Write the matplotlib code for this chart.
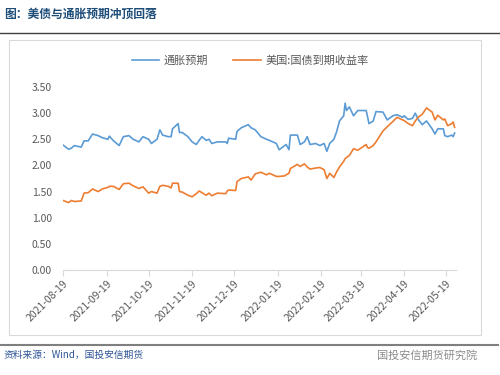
import matplotlib
matplotlib.use("Agg")
from matplotlib import pyplot as plt
from matplotlib.patches import Rectangle
import matplotlib.dates as mdates
import pandas as pd

plt.rcParams['font.family'] = ['Noto Sans CJK SC', 'DejaVu Sans']

dates = [
    "2021-08-19", "2021-08-23", "2021-08-25", "2021-08-27", "2021-09-01",
    "2021-09-03", "2021-09-06", "2021-09-09", "2021-09-13", "2021-09-16",
    "2021-09-20", "2021-09-21", "2021-09-24", "2021-09-28", "2021-10-01",
    "2021-10-05", "2021-10-08", "2021-10-12", "2021-10-15", "2021-10-19",
    "2021-10-21", "2021-10-25", "2021-10-27", "2021-10-29", "2021-11-02",
    "2021-11-04", "2021-11-05", "2021-11-09", "2021-11-10", "2021-11-12",
    "2021-11-16", "2021-11-19", "2021-11-22", "2021-11-24", "2021-11-26",
    "2021-11-29", "2021-12-01", "2021-12-03", "2021-12-07", "2021-12-13",
    "2021-12-14", "2021-12-15", "2021-12-20", "2021-12-21", "2021-12-24",
    "2021-12-29", "2021-12-31", "2022-01-03", "2022-01-07", "2022-01-11",
    "2022-01-13", "2022-01-18", "2022-01-20", "2022-01-24", "2022-01-25",
    "2022-01-27", "2022-01-28", "2022-02-02", "2022-02-04", "2022-02-07",
    "2022-02-09", "2022-02-11", "2022-02-15", "2022-02-18", "2022-02-21",
    "2022-02-23", "2022-02-25", "2022-02-28", "2022-03-02", "2022-03-04",
    "2022-03-07", "2022-03-08", "2022-03-09", "2022-03-11", "2022-03-14",
    "2022-03-17", "2022-03-23", "2022-03-24", "2022-03-25", "2022-03-28",
    "2022-03-30", "2022-04-04", "2022-04-07", "2022-04-11", "2022-04-14",
    "2022-04-18", "2022-04-19", "2022-04-22", "2022-04-25", "2022-04-27",
    "2022-04-29", "2022-05-02", "2022-05-05", "2022-05-09", "2022-05-11",
    "2022-05-13", "2022-05-17", "2022-05-18", "2022-05-20", "2022-05-23",
    "2022-05-24", "2022-05-25",
]

# 通胀预期
breakeven = [
    2.39, 2.31, 2.33, 2.38, 2.35, 2.47, 2.47, 2.60, 2.57, 2.53,
    2.50, 2.56, 2.47, 2.38, 2.55, 2.57, 2.50, 2.45, 2.55, 2.50,
    2.42, 2.50, 2.68, 2.58, 2.55, 2.55, 2.70, 2.80, 2.63, 2.63,
    2.55, 2.45, 2.40, 2.48, 2.55, 2.48, 2.50, 2.42, 2.45, 2.45,
    2.42, 2.52, 2.50, 2.65, 2.72, 2.78, 2.72, 2.68, 2.55, 2.50,
    2.48, 2.42, 2.30, 2.38, 2.40, 2.30, 2.58, 2.58, 2.40, 2.45,
    2.55, 2.40, 2.42, 2.38, 2.42, 2.27, 2.42, 2.50, 2.65, 2.85,
    2.95, 3.19, 3.05, 3.12, 2.95, 3.05, 3.05, 2.93, 2.80, 2.85,
    3.03, 3.02, 2.87, 2.95, 2.97, 2.92, 2.95, 2.88, 2.90, 3.00,
    2.88, 2.78, 2.85, 2.70, 2.60, 2.70, 2.70, 2.57, 2.55, 2.58,
    2.55, 2.62,
]

# 美国:国债到期收益率
yield10y = [
    1.33, 1.29, 1.33, 1.31, 1.32, 1.47, 1.48, 1.55, 1.50, 1.55,
    1.58, 1.60, 1.60, 1.54, 1.65, 1.66, 1.61, 1.56, 1.59, 1.47,
    1.50, 1.47, 1.60, 1.62, 1.60, 1.57, 1.66, 1.66, 1.50, 1.49,
    1.43, 1.40, 1.46, 1.51, 1.48, 1.43, 1.47, 1.42, 1.47, 1.46,
    1.51, 1.53, 1.52, 1.69, 1.75, 1.78, 1.72, 1.84, 1.87, 1.82,
    1.85, 1.79, 1.79, 1.80, 1.82, 1.85, 1.94, 2.02, 1.98, 2.03,
    1.97, 1.93, 1.95, 1.96, 1.92, 1.75, 1.85, 1.77, 1.88, 1.97,
    2.08, 2.13, 2.15, 2.19, 2.32, 2.29, 2.40, 2.34, 2.33, 2.38,
    2.45, 2.66, 2.74, 2.84, 2.92, 2.87, 2.86, 2.80, 2.76, 2.85,
    2.92, 2.98, 3.10, 3.02, 2.87, 2.96, 2.87, 2.89, 2.76, 2.80,
    2.83, 2.73,
]

tick_dates = ["2021-08-19", "2021-09-19", "2021-10-19", "2021-11-19", "2021-12-19",
              "2022-01-19", "2022-02-19", "2022-03-19", "2022-04-19", "2022-05-19"]

x = pd.to_datetime(dates)
ticks = pd.to_datetime(tick_dates)

fig = plt.figure(figsize=(5, 3.75), dpi=100)

# title and frame decorations
fig.text(0.008, 0.962, "图：美债与通胀预期冲顶回落", color="#1F4E79", fontsize=8.5,
         fontweight="bold", va="center", ha="left")
fig.add_artist(plt.Line2D([0.0, 1.0], [1 - 33 / 375, 1 - 33 / 375], color="#404040", lw=1.0))
fig.add_artist(Rectangle((9 / 500, 1 - 335 / 375), 472 / 500, 295 / 375,
                         transform=fig.transFigure, fill=False, ec="#D9D9D9", lw=0.8))
fig.add_artist(plt.Line2D([0.0, 0.995], [1 - 345 / 375, 1 - 345 / 375], color="#7F7F7F", lw=1.5))
fig.text(0.008, 1 - 355 / 375, "资料来源：Wind，国投安信期货", color="#2E5597", fontsize=7,
         style="italic", va="center", ha="left")
fig.text(0.955, 1 - 355 / 375, "国投安信期货研究院", color="#8C8C8C", fontsize=8,
         va="center", ha="right")

ax = fig.add_axes([63 / 500, 1 - 270 / 375, 393 / 500, 183 / 375])
ax.plot(x, breakeven, color="#5B9BD5", lw=1.2, label="通胀预期")
ax.plot(x, yield10y, color="#ED7D31", lw=1.2, label="美国:国债到期收益率")

ax.set_ylim(0, 3.5)
ax.set_yticks([0, 0.5, 1.0, 1.5, 2.0, 2.5, 3.0, 3.5])
ax.yaxis.set_major_formatter(matplotlib.ticker.FormatStrFormatter("%.2f"))
ax.set_xlim(ticks[0], pd.Timestamp("2022-05-26"))
ax.set_xticks(ticks)
ax.xaxis.set_major_formatter(mdates.DateFormatter("%Y-%m-%d"))
for lbl in ax.get_xticklabels():
    lbl.set_rotation(45)
    lbl.set_ha("right")
    lbl.set_rotation_mode("anchor")

for side in ["top", "right", "left"]:
    ax.spines[side].set_visible(False)
ax.spines["bottom"].set_color("#D9D9D9")
ax.tick_params(axis="y", length=0, labelsize=7.5, labelcolor="#595959", pad=8)
ax.tick_params(axis="x", length=4, color="#D9D9D9", labelsize=7.5, labelcolor="#595959", pad=2)

ax.legend(loc="center", bbox_to_anchor=(0.5, 1 - 60.5 / 375), bbox_transform=fig.transFigure,
          ncol=2, frameon=False, fontsize=8, labelcolor="#595959", handlelength=2.5,
          columnspacing=2.2, handletextpad=0.4)

fig.savefig("out.png", dpi=100)
